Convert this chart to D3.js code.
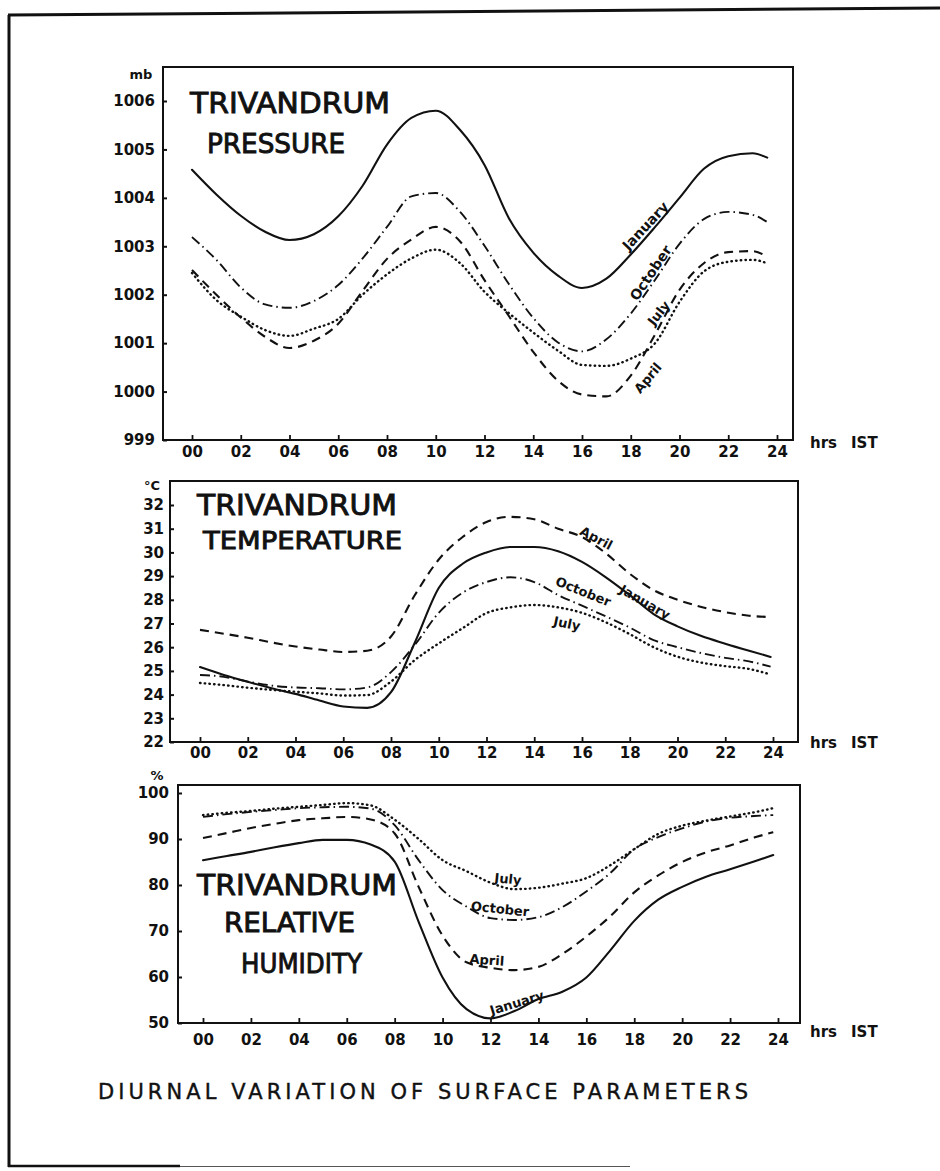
<!DOCTYPE html>
<html>
<head>
<meta charset="utf-8">
<script src="https://cdn.jsdelivr.net/npm/d3@7"></script>
<style>
  html, body { margin: 0; padding: 0; background: #fff; }
  svg { display: block; }
</style>
</head>
<body>
<svg id="chart" width="940" height="1171"></svg>
<script>
// ---------------- DATA ----------------
const months = ["January", "April", "July", "October"];
const hourTicks = [0, 2, 4, 6, 8, 10, 12, 14, 16, 18, 20, 22, 24];

// Pressure (mb)
const pressureHours = [0,1,2,3,4,5,6,7,8,9,10,11,12,13,14,15,16,17,18,19,20,21,22,23,23.6];
const pressureJanuary = [1004.58,1004.07,1003.63,1003.3,1003.13,1003.25,1003.62,1004.25,1005.1,1005.65,1005.8,1005.4,1004.68,1003.58,1002.87,1002.4,1002.14,1002.33,1002.83,1003.4,1004.0,1004.6,1004.86,1004.92,1004.83];
const pressureApril   = [1002.51,1002.0,1001.53,1001.13,1000.9,1001.05,1001.4,1002.08,1002.74,1003.14,1003.4,1003.1,1002.3,1001.56,1000.82,1000.23,999.94,999.9,1000.33,1001.18,1002.1,1002.65,1002.88,1002.9,1002.78];
const pressureJuly    = [1002.45,1001.89,1001.55,1001.27,1001.15,1001.3,1001.5,1002.0,1002.42,1002.75,1002.93,1002.65,1002.06,1001.62,1001.22,1000.85,1000.55,1000.53,1000.68,1001.0,1001.85,1002.48,1002.68,1002.72,1002.65];
const pressureOctober = [1003.19,1002.72,1002.15,1001.8,1001.73,1001.87,1002.2,1002.75,1003.4,1004.03,1004.1,1003.71,1003.01,1002.22,1001.52,1001.02,1000.83,1001.08,1001.61,1002.31,1003.05,1003.56,1003.71,1003.65,1003.5];
const pressureTicks = [999, 1000, 1001, 1002, 1003, 1004, 1005, 1006];

// Temperature (°C)
const temperatureHours = [0,1,2,3,4,5,6,7,8,9,10,11,12,13,14,15,16,17,18,19,20,21,22,23,23.9];
const temperatureJanuary = [25.16,24.83,24.54,24.27,24.03,23.75,23.5,23.44,24.1,26.2,28.5,29.52,30.0,30.23,30.23,30.05,29.6,28.95,28.2,27.4,26.88,26.47,26.15,25.85,25.59];
const temperatureApril   = [26.73,26.57,26.4,26.2,26.03,25.9,25.8,25.85,26.45,28.2,29.7,30.65,31.28,31.5,31.4,31.0,30.65,29.96,29.1,28.41,28.0,27.7,27.48,27.33,27.27];
const temperatureJuly    = [24.49,24.4,24.29,24.2,24.12,24.05,23.96,23.98,24.55,25.46,26.16,26.8,27.44,27.68,27.78,27.68,27.45,27.05,26.55,26.0,25.6,25.35,25.2,25.08,24.85];
const temperatureOctober = [24.83,24.75,24.55,24.38,24.3,24.27,24.22,24.3,24.95,26.1,27.45,28.3,28.75,28.95,28.75,28.2,27.75,27.3,26.83,26.3,26.0,25.75,25.55,25.4,25.18];
const temperatureTicks = [22, 23, 24, 25, 26, 27, 28, 29, 30, 31, 32];

// Relative humidity (%)
const humidityHours = [0,1,2,3,4,5,6,7,8,9,10,11,12,13,14,15,16,17,18,19,20,21,22,23,23.8];
const humidityJanuary = [85.4,86.3,87.2,88.2,89.1,89.8,89.8,88.8,85.1,72.0,59.9,53.0,51.0,52.6,55.2,56.8,59.9,65.8,72.2,76.8,79.6,81.8,83.4,85.1,86.5];
const humidityApril   = [90.2,91.3,92.4,93.3,94.1,94.5,94.8,94.25,91.2,79.6,69.0,63.2,62.0,61.5,62.2,65.0,68.8,73.2,78.4,82.1,85.0,87.1,88.6,90.3,91.5];
const humidityJuly    = [95.2,95.7,96.1,96.6,97.0,97.4,97.8,97.3,94.2,90.0,85.4,83.0,80.5,79.1,79.4,80.3,81.5,84.3,87.8,91.1,92.9,94.0,94.9,95.8,96.7];
const humidityOctober = [94.8,95.4,95.9,96.3,96.7,96.9,97.0,96.6,93.0,85.4,78.9,75.3,72.8,72.4,73.0,75.2,78.6,82.6,87.8,90.4,92.3,93.8,94.6,95.0,95.2];
const humidityTicks = [50, 60, 70, 80, 90, 100];

// ---------------- STYLE / LAYOUT ----------------
const lineStyle = {
  January: { dash: null,         width: 2.1, cap: "round" },
  April:   { dash: "9,6",        width: 2.1, cap: "butt" },
  July:    { dash: "0.5,4.2",    width: 2.4, cap: "round" },
  October: { dash: "10,4,1.5,4", width: 1.9, cap: "butt" }
};

const svg = d3.select("#chart");
svg.append("rect").attr("width", 940).attr("height", 1171).attr("fill", "#fff");

// outer border (as in the scanned figure)
svg.append("line").attr("x1", 9).attr("y1", 15).attr("x2", 9).attr("y2", 1167)
  .attr("stroke", "#111").attr("stroke-width", 3);
svg.append("line").attr("x1", 8).attr("y1", 15).attr("x2", 940).attr("y2", 8)
  .attr("stroke", "#111").attr("stroke-width", 3);
svg.append("line").attr("x1", 8).attr("y1", 1166).attr("x2", 180).attr("y2", 1166)
  .attr("stroke", "#111").attr("stroke-width", 2.5);
svg.append("line").attr("x1", 180).attr("y1", 1166.5).attr("x2", 630).attr("y2", 1166.5)
  .attr("stroke", "#555").attr("stroke-width", 1.2);

const FONT = "'DejaVu Sans', 'Liberation Sans', sans-serif";

const panels = [
  {
    hours: pressureHours,
    series: { January: pressureJanuary, April: pressureApril, July: pressureJuly, October: pressureOctober },
    xRange: [192, 777], yDomain: [999, 1006], yRange: [440, 101],
    frame: { x0: 163, x1: 793, y0: 67, y1: 440 },
    yTicks: pressureTicks, yPad: 8, xPad: 6,
    unit: { text: "mb", x: 141, y: 79 },
    titles: [
      { text: "TRIVANDRUM", x: 190, y: 113, size: 28, len: 200 },
      { text: "PRESSURE",   x: 207, y: 153, size: 26, len: 138 }
    ],
    hrs: { y: 448 },
    labels: [
      { m: "January", h: 18.6,  v: 1003.42, rot: -47, size: 14 },
      { m: "October", h: 18.82, v: 1002.45, rot: -56, size: 14 },
      { m: "July",    h: 19.15, v: 1001.62, rot: -52, size: 13 },
      { m: "April",   h: 18.7,  v: 1000.28, rot: -50, size: 13 }
    ]
  },
  {
    hours: temperatureHours,
    series: { January: temperatureJanuary, April: temperatureApril, July: temperatureJuly, October: temperatureOctober },
    xRange: [200, 773], yDomain: [22, 32], yRange: [742, 505],
    frame: { x0: 170, x1: 798, y0: 481, y1: 742 },
    yTicks: temperatureTicks, yPad: 6, xPad: 5,
    unit: { text: "°C", x: 152, y: 490 },
    titles: [
      { text: "TRIVANDRUM",  x: 197, y: 515, size: 28, len: 200 },
      { text: "TEMPERATURE", x: 203, y: 549, size: 24, len: 199 }
    ],
    hrs: { y: 748 },
    labels: [
      { m: "April",   h: 16.6,  v: 30.6,  rot: 28, size: 13 },
      { m: "January", h: 18.64, v: 27.9,  rot: 30, size: 13 },
      { m: "October", h: 16.05, v: 28.35, rot: 22, size: 13 },
      { m: "July",    h: 15.37, v: 27.0,  rot: 12, size: 13 }
    ]
  },
  {
    hours: humidityHours,
    series: { January: humidityJanuary, April: humidityApril, July: humidityJuly, October: humidityOctober },
    xRange: [203, 778], yDomain: [50, 100], yRange: [1023, 793],
    frame: { x0: 178, x1: 800, y0: 785, y1: 1023 },
    yTicks: humidityTicks, yPad: 9, xPad: 11,
    unit: { text: "%", x: 157, y: 780 },
    titles: [
      { text: "TRIVANDRUM", x: 197, y: 895, size: 28, len: 200 },
      { text: "RELATIVE",   x: 224, y: 932, size: 26, len: 131 },
      { text: "HUMIDITY",   x: 241, y: 973, size: 26, len: 121 }
    ],
    hrs: { y: 1037 },
    labels: [
      { m: "July",    h: 12.73, v: 81.3, rot: 6,   size: 13 },
      { m: "October", h: 12.4,  v: 74.8, rot: 6,   size: 13 },
      { m: "April",   h: 11.85, v: 63.7, rot: 4,   size: 13 },
      { m: "January", h: 13.1,  v: 54.4, rot: -17, size: 13 }
    ]
  }
];

panels.forEach(p => {
  const g = svg.append("g");
  const x = d3.scaleLinear().domain([0, 24]).range(p.xRange);
  const y = d3.scaleLinear().domain(p.yDomain).range(p.yRange);

  // frame
  g.append("rect")
    .attr("x", p.frame.x0).attr("y", p.frame.y0)
    .attr("width", p.frame.x1 - p.frame.x0).attr("height", p.frame.y1 - p.frame.y0)
    .attr("fill", "none").attr("stroke", "#111").attr("stroke-width", 2);

  // x axis
  const xa = g.append("g").attr("transform", `translate(0,${p.frame.y1})`)
    .call(d3.axisBottom(x).tickValues(hourTicks).tickFormat(d3.format("02d"))
      .tickSizeInner(-5).tickSizeOuter(0).tickPadding(p.xPad));
  xa.select(".domain").remove();
  xa.selectAll(".tick line").attr("stroke", "#111").attr("stroke-width", 1.8);
  xa.selectAll(".tick text").attr("fill", "#111")
    .style("font-family", FONT).style("font-weight", "bold").style("font-size", "15px");

  // y axis
  const ya = g.append("g").attr("transform", `translate(${p.frame.x0},0)`)
    .call(d3.axisLeft(y).tickValues(p.yTicks).tickFormat(d3.format("d"))
      .tickSizeInner(-4).tickSizeOuter(0).tickPadding(p.yPad));
  ya.select(".domain").remove();
  ya.selectAll(".tick line").attr("stroke", "#111").attr("stroke-width", 2);
  ya.selectAll(".tick text").attr("fill", "#111")
    .style("font-family", FONT).style("font-weight", "bold").style("font-size", "15px");

  // unit label
  g.append("text").attr("x", p.unit.x).attr("y", p.unit.y).attr("text-anchor", "middle")
    .style("font-family", FONT).style("font-weight", "bold").style("font-size", "13px")
    .attr("fill", "#111").text(p.unit.text);

  // hrs IST
  g.append("text").attr("x", 810).attr("y", p.hrs.y)
    .style("font-family", FONT).style("font-weight", "bold").style("font-size", "15px")
    .attr("fill", "#111").text("hrs");
  g.append("text").attr("x", 851).attr("y", p.hrs.y)
    .style("font-family", FONT).style("font-weight", "bold").style("font-size", "15px")
    .attr("fill", "#111").text("IST");

  // panel titles
  p.titles.forEach(t => {
    g.append("text").attr("x", t.x).attr("y", t.y)
      .attr("textLength", t.len).attr("lengthAdjust", "spacingAndGlyphs")
      .style("font-family", FONT).style("font-size", t.size + "px")
      .attr("fill", "#111").attr("stroke", "#111").attr("stroke-width", 0.9)
      .text(t.text);
  });

  // curves
  const line = d3.line().x(d => x(d[0])).y(d => y(d[1])).curve(d3.curveMonotoneX);
  months.forEach(m => {
    const pts = p.hours.map((h, i) => [h, p.series[m][i]]);
    const s = lineStyle[m];
    g.append("path").datum(pts).attr("d", line)
      .attr("fill", "none").attr("stroke", "#111")
      .attr("stroke-width", s.width)
      .attr("stroke-linecap", s.cap)
      .attr("stroke-dasharray", s.dash);
  });

  // series labels
  p.labels.forEach(l => {
    const cx = x(l.h), cy = y(l.v);
    g.append("text")
      .attr("transform", `translate(${cx},${cy}) rotate(${l.rot})`)
      .attr("text-anchor", "middle").attr("dy", "0.35em")
      .style("font-family", FONT).style("font-weight", "bold").style("font-size", l.size + "px")
      .attr("fill", "#111").text(l.m);
  });
});

// figure caption
svg.append("text").attr("x", 98).attr("y", 1099)
  .attr("textLength", 650).attr("lengthAdjust", "spacing")
  .style("font-family", FONT).style("font-size", "21px")
  .attr("fill", "#111").attr("stroke", "#111").attr("stroke-width", 0.4)
  .text("DIURNAL VARIATION OF SURFACE PARAMETERS");
</script>
</body>
</html>
